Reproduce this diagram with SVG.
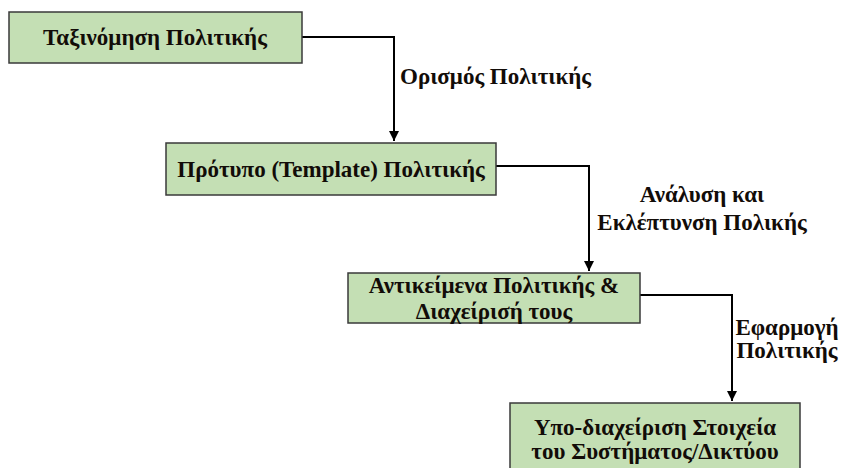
<svg xmlns="http://www.w3.org/2000/svg" width="856" height="468" viewBox="0 0 856 468">
  <defs>
    <marker id="arrow" viewBox="0 0 10 10" refX="10" refY="5" markerWidth="5" markerHeight="5" orient="auto" markerUnits="strokeWidth">
      <path d="M0,0 L10,5 L0,10 z" fill="#000"/>
    </marker>
    <style>
      .box { fill: #c4dfb4; stroke: #3a3a3a; stroke-width: 1.5; }
      text { font-family: 'Liberation Serif', 'DejaVu Serif', serif; font-weight: bold; font-size: 23px; fill: #120c08; }
      .c { text-anchor: middle; }
      .conn { fill: none; stroke: #000; stroke-width: 2; }
    </style>
  </defs>
  <rect width="856" height="468" fill="#fff"/>

  <g id="connectors">
    <path class="conn" d="M302,37 H394 V141" marker-end="url(#arrow)"/>
    <path class="conn" d="M496,166 H589 V271" marker-end="url(#arrow)"/>
    <path class="conn" d="M640,295 H732 V401" marker-end="url(#arrow)"/>
    <text x="400" y="84">Ορισμός Πολιτικής</text>
    <text class="c" x="702" y="202">Ανάλυση και</text>
    <text class="c" x="702" y="230">Εκλέπτυνση Πολικής</text>
    <text class="c" x="787" y="335">Εφαρμογή</text>
    <text class="c" x="787" y="358">Πολιτικής</text>
  </g>

  <g id="node-taxonomy">
    <rect class="box" x="9" y="12" width="293" height="51"/>
    <text class="c" x="155" y="45">Ταξινόμηση Πολιτικής</text>
  </g>

  <g id="node-template">
    <rect class="box" x="166" y="143" width="330" height="52"/>
    <text class="c" x="331" y="177">Πρότυπο (Template) Πολιτικής</text>
  </g>

  <g id="node-objects">
    <rect class="box" x="348" y="273" width="292" height="50"/>
    <text class="c" x="494" y="293">Αντικείμενα Πολιτικής &amp;</text>
    <text class="c" x="494" y="319">Διαχείρισή τους</text>
  </g>

  <g id="node-elements">
    <rect class="box" x="510" y="403" width="290" height="72"/>
    <text class="c" x="655" y="435">Υπο-διαχείριση Στοιχεία</text>
    <text class="c" x="655" y="459">του Συστήματος/Δικτύου</text>
  </g>
</svg>
